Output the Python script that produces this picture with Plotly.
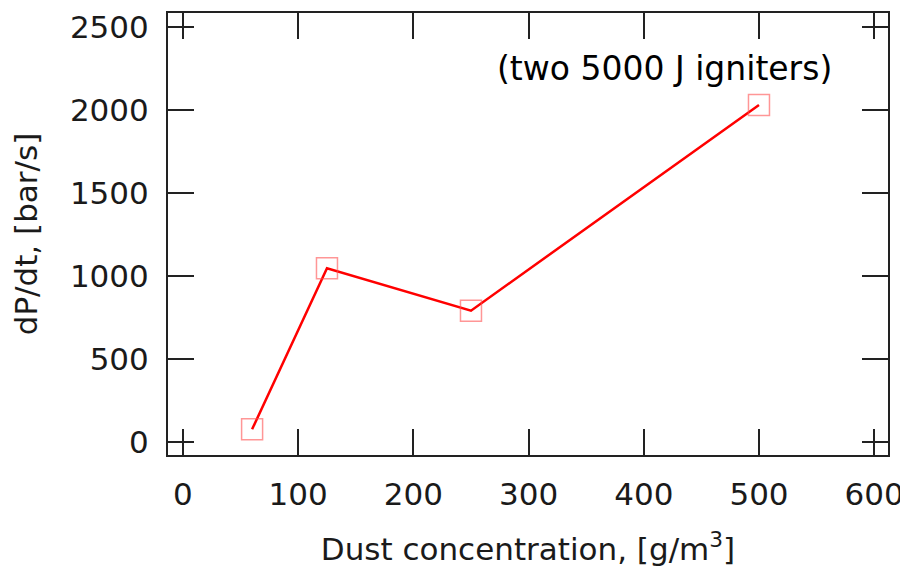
import plotly.graph_objects as go

concentration = [60, 125, 250, 500]
dpdt = [75, 1045, 790, 2030]
x_ticks = [0, 100, 200, 300, 400, 500, 600]
y_ticks = [0, 500, 1000, 1500, 2000, 2500]
note = "(two 5000 J igniters)"
x_title = "Dust concentration, [g/m<sup>3</sup>]"
y_title = "dP/dt, [bar/s]"

font_family = "DejaVu Sans"
txt = "#1a1a1a"

fig = go.Figure()
fig.add_trace(go.Scatter(
    x=concentration, y=dpdt, mode="lines+markers",
    line=dict(color="#ff0000", width=2.5),
    marker=dict(symbol="square-open", size=21, color="rgba(255,80,80,0.6)",
                line=dict(width=1.5, color="rgba(255,80,80,0.6)")),
    showlegend=False,
))

axis_common = dict(
    showline=True, linecolor="#222", linewidth=2, mirror="ticks",
    ticks="inside", ticklen=26, tickwidth=2, tickcolor="#222",
    showgrid=False, zeroline=False, automargin=False,
    tickfont=dict(family=font_family, size=31, color=txt),
)

fig.update_xaxes(range=[-13, 612], tickvals=x_ticks,
                 ticktext=[str(v) for v in x_ticks],
                 ticklabelstandoff=11,
                 title=dict(text=x_title, font=dict(family=font_family, size=31, color=txt), standoff=27),
                 **axis_common)
fig.update_yaxes(range=[-80, 2584], tickvals=y_ticks,
                 ticktext=[str(v) for v in y_ticks],
                 ticklabelstandoff=11,
                 title=dict(text=y_title, font=dict(family=font_family, size=31, color=txt), standoff=24),
                 **axis_common)

fig.add_annotation(text=note, xref="paper", yref="paper", x=0.69, y=0.875,
                   xanchor="center", yanchor="middle", showarrow=False,
                   font=dict(family=font_family, size=33, color="#000"))

# page body has an 8px default margin, so the figure is sized/offset to compensate
fig.update_layout(
    width=900, height=562,
    margin=dict(l=160, r=20, t=5, b=115),
    plot_bgcolor="white", paper_bgcolor="white",
)

fig.write_html("out.html")
